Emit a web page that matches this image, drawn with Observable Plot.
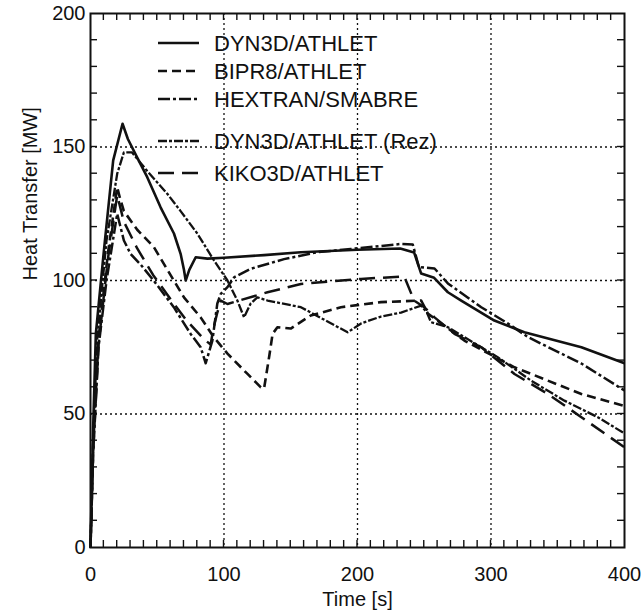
<!DOCTYPE html>
<html>
<head>
<meta charset="utf-8">
<script src="https://cdn.jsdelivr.net/npm/d3@7"></script>
<script src="https://cdn.jsdelivr.net/npm/@observablehq/plot@0.6"></script>
<style>
  html, body { margin: 0; padding: 0; background: #fff; }
  #chart svg { display: block; }
</style>
</head>
<body>
<div id="chart"></div>
<script>
// Heat transfer [MW] versus time [s] for five code couplings.
const dyn3dAthlet = [
  [0, 0], [2, 45], [4, 80], [10, 111], [17, 145], [24, 158.7], [28, 153], [35, 146],
  [42.5, 138.7], [52.5, 127.4], [62.5, 117.6], [67.5, 110], [70, 104], [71.3, 100],
  [74, 104], [78.8, 108.7], [87.6, 108.2], [100, 108.5], [130, 109.5], [157.6, 110.6],
  [200, 111.5], [232, 112], [242.4, 110.5], [247.7, 102.6], [257.4, 101], [267.7, 95.6],
  [277.7, 92.5], [302.5, 85], [325, 80.6], [367.7, 75], [400, 69]
];
const bipr8Athlet = [
  [0, 0], [2, 38], [6, 78], [13, 110], [20, 135], [22, 131], [25, 126], [35, 119],
  [47.5, 112.5], [60, 102], [70, 93.7], [82.5, 86.2], [92, 79], [102.6, 72.6],
  [117.6, 65], [127.6, 60], [130, 59.5], [134, 72], [136.4, 80], [140, 82.5], [150, 82],
  [165, 86.9], [187.6, 90], [217.6, 91.9], [247.7, 92.5], [252.7, 87.6], [257.7, 85.8],
  [280, 77.5], [317.6, 67.5], [342.6, 62.5], [367.7, 57.5], [400, 53]
];
const hextranSmabre = [
  [0, 0], [2, 35], [6, 75], [12, 100], [20, 125], [22, 121], [25, 115], [30, 110],
  [37.5, 106], [47.3, 100], [62.4, 90], [75, 80], [82.5, 75], [86.3, 69], [91.3, 77.5],
  [95, 91.4], [97.6, 95], [102.6, 97.5], [107.6, 101.2], [120, 104.4], [145, 108],
  [170, 110.6], [195, 111.8], [232.6, 113.7], [241.4, 113.5], [246, 105], [257.7, 104.5],
  [267.7, 98.9], [292.7, 90], [312.7, 83.9], [327.7, 78.8], [367.7, 68.9], [400, 58.8]
];
const dyn3dAthletRez = [
  [0, 0], [2, 40], [5, 78], [12, 115], [20, 140], [25, 148], [31, 148], [42.5, 141],
  [57.5, 132.5], [67.5, 126], [80, 117.6], [92.5, 107.5], [102.6, 100], [110, 92.5],
  [115, 86.2], [120, 91.4], [125, 93.7], [132.6, 92.5], [157.6, 90], [192.6, 80.6],
  [203, 84], [217.6, 86.5], [232.6, 88], [247.7, 90.6], [252, 88], [255, 84.4],
  [267.7, 82.5], [280, 78.8], [305, 71.3], [330, 62.5], [355, 55], [380, 48.8], [400, 42.7]
];
const kiko3dAthlet = [
  [0, 0], [2, 36], [6, 76], [13, 108], [20, 132], [25, 122], [35, 112], [47, 102],
  [60, 93], [72, 85], [85, 78], [90, 76], [92, 82], [95, 88], [97.6, 92.5], [102.6, 91.2],
  [132.6, 95.6], [157.6, 98.7], [202.6, 100.6], [235, 101.5], [242.4, 92.5], [250, 90],
  [257.7, 86.2], [272.7, 80], [292.7, 75], [317.6, 65], [342.6, 57.5], [367.7, 48.8],
  [400, 37.5]
];

const seriesNames = [
  "DYN3D/ATHLET", "BIPR8/ATHLET", "HEXTRAN/SMABRE", "DYN3D/ATHLET (Rez)", "KIKO3D/ATHLET"
];
const seriesData = [dyn3dAthlet, bipr8Athlet, hextranSmabre, dyn3dAthletRez, kiko3dAthlet];
const dashes = [null, "9,5", "12,3,3,3", "9,2,3,2", "16,8"];
const widths = [2.6, 2.6, 2.5, 2.3, 2.5];

const xGrid = [100, 200, 300];
const yGrid = [50, 100, 150];
const xLabels = [0, 100, 200, 300, 400];
const yLabels = [0, 50, 100, 150, 200];
const xMinor = d3.range(10, 400, 10);
const yMinor = d3.range(10, 200, 10);

const font = "'Liberation Sans', Arial, Helvetica, sans-serif";

const curveMarks = seriesData.map((d, i) =>
  Plot.line(d, {
    x: d => d[0], y: d => d[1],
    stroke: "#111", strokeWidth: widths[i],
    strokeDasharray: dashes[i], strokeLinejoin: "round", strokeLinecap: "butt"
  })
);

const chart = Plot.plot({
  width: 643,
  height: 612,
  marginLeft: 90,
  marginRight: 19,
  marginTop: 13,
  marginBottom: 65,
  style: { fontFamily: font, background: "#fff", color: "#111" },
  x: { domain: [0, 400] },
  y: { domain: [0, 200] },
  marks: [
    Plot.ruleX(xGrid, { stroke: "#111", strokeWidth: 1.3, strokeDasharray: "2,3" }),
    Plot.ruleY(yGrid, { stroke: "#111", strokeWidth: 1.3, strokeDasharray: "2,3" }),
    ...curveMarks,
    Plot.axisX(xLabels, { anchor: "bottom", tickSize: 0, tickPadding: 19, fontSize: 20, label: null }),
    Plot.axisY(yLabels, { anchor: "left", tickSize: 0, tickPadding: 5, fontSize: 20, label: null }),
    Plot.text(["Time [s]"], { frameAnchor: "bottom", lineAnchor: "middle", dy: 52, fontSize: 20, fill: "#111" }),
    Plot.text(["Heat Transfer [MW]"], { frameAnchor: "left", lineAnchor: "middle", dx: -60, rotate: -90, fontSize: 20, fill: "#111" }),
    Plot.frame({ stroke: "#111", strokeWidth: 2 })
  ]
});

document.getElementById("chart").appendChild(chart);

const svg = d3.select(chart);
const xs = chart.scale("x"), ys = chart.scale("y");
const [x0, x1] = xs.range;
const [y0, y1] = ys.range; // y0 bottom, y1 top

// Inward minor ticks every 10 units on all four sides
const ticks = svg.append("g").attr("stroke", "#111").attr("stroke-width", 1.4);
xMinor.forEach(v => {
  const px = xs.apply(v);
  ticks.append("line").attr("x1", px).attr("x2", px).attr("y1", y0).attr("y2", y0 - 7);
  ticks.append("line").attr("x1", px).attr("x2", px).attr("y1", y1).attr("y2", y1 + 7);
});
yMinor.forEach(v => {
  const py = ys.apply(v);
  ticks.append("line").attr("y1", py).attr("y2", py).attr("x1", x0).attr("x2", x0 + 7);
  ticks.append("line").attr("y1", py).attr("y2", py).attr("x1", x1).attr("x2", x1 - 7);
});

// Legend in the upper left of the frame
const legendRows = [43, 71, 99, 141, 173];
const legend = svg.append("g")
  .attr("font-family", font).attr("font-size", 22).attr("fill", "#111")
  .attr("text-anchor", "start");
seriesNames.forEach((name, i) => {
  const y = legendRows[i];
  legend.append("line")
    .attr("x1", 158).attr("x2", 199).attr("y1", y).attr("y2", y)
    .attr("stroke", "#111").attr("stroke-width", widths[i])
    .attr("stroke-dasharray", dashes[i]);
  legend.append("text")
    .attr("x", 214).attr("y", y).attr("dy", "0.36em")
    .text(name);
});
</script>
</body>
</html>
